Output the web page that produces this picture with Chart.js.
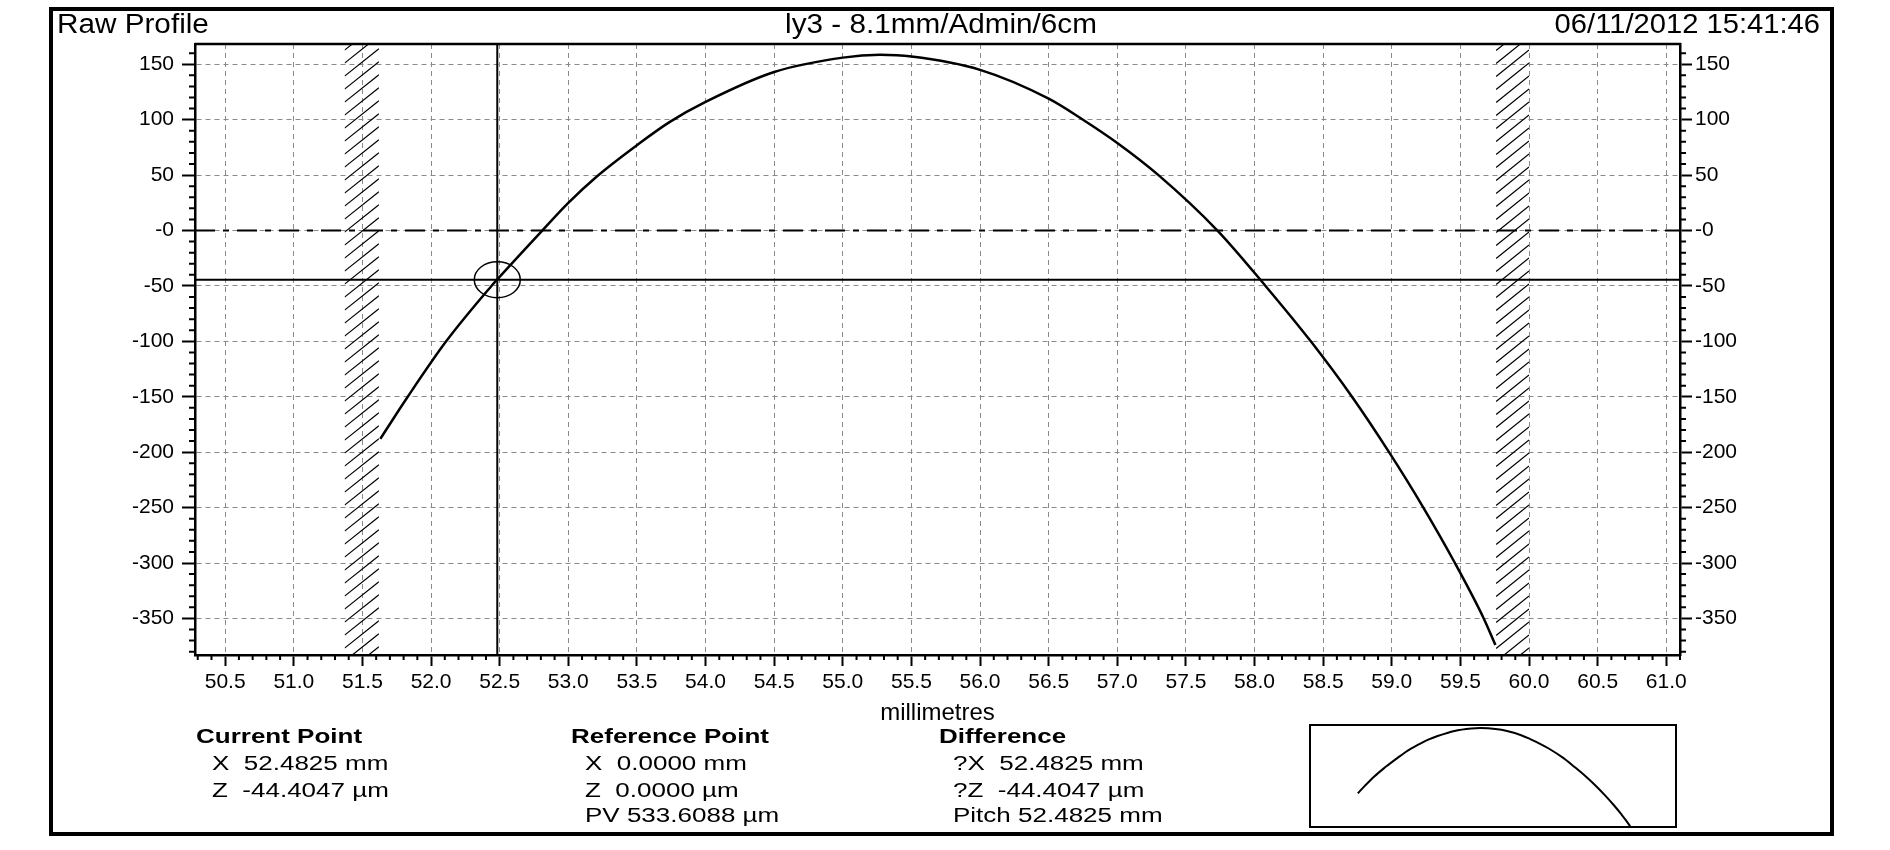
<!DOCTYPE html>
<html>
<head>
<meta charset="utf-8">
<title>Raw Profile</title>
<script src="https://cdn.jsdelivr.net/npm/chart.js@4.4.1/dist/chart.umd.min.js"></script>
<style>
  html, body { margin: 0; padding: 0; background: #fff; }
  #wrap { position: relative; width: 1890px; height: 850px; }
  #profile-chart { position: absolute; left: 0; top: 0; }
  #mini-chart { position: absolute; left: 1309px; top: 724px; }
</style>
</head>
<body>
<div id="wrap">
  <canvas id="profile-chart" width="1890" height="850"></canvas>
  <canvas id="mini-chart" width="368" height="104"></canvas>
</div>
<script>
// trace: position (mm) and height (µm)
var profileX = [51.63, 51.83, 52.11, 52.44, 52.48, 52.81, 53.0, 53.21, 53.5, 53.74, 54.0, 54.5,
                55.0, 55.27, 55.5, 56.0, 56.5, 56.75, 57.0, 57.3, 57.73, 58.08, 58.41, 58.71,
                58.98, 59.23, 59.46, 59.67, 59.755];
var profileZ = [-188, -150, -100, -50, -44.4, 0, 25, 49, 77, 98, 116, 143,
                156, 158.5, 157, 145, 119, 100, 79, 50, 0, -50, -100, -150,
                -200, -250, -300, -350, -374];

// axis ranges and tick values
var xRange = [50.28, 61.1];
var zRange = [-383, 168.3];
var xTicks = [50.5, 51.0, 51.5, 52.0, 52.5, 53.0, 53.5, 54.0, 54.5, 55.0, 55.5,
              56.0, 56.5, 57.0, 57.5, 58.0, 58.5, 59.0, 59.5, 60.0, 60.5, 61.0];
var zTicks = [150, 100, 50, 0, -50, -100, -150, -200, -250, -300, -350];

// cursor and excluded bands
var cursorX = 52.4825;
var cursorZ = -44.4047;
var bandsX = [[51.37, 51.62], [59.76, 60.0]];

// texts
var headerLeft = 'Raw Profile';
var headerMid = 'ly3 - 8.1mm/Admin/6cm';
var headerRight = '06/11/2012 15:41:46';
var axisTitle = 'millimetres';
var infoCurrent = ['Current Point', 'X  52.4825 mm', 'Z  -44.4047 µm'];
var infoReference = ['Reference Point', 'X  0.0000 mm', 'Z  0.0000 µm', 'PV 533.6088 µm'];
var infoDifference = ['Difference', '?X  52.4825 mm', '?Z  -44.4047 µm', 'Pitch 52.4825 mm'];

var FONT = "'Liberation Sans', Arial, sans-serif";
Chart.defaults.font.family = FONT;
Chart.defaults.color = '#000';

var points = profileX.map(function (x, i) { return {x: x, y: profileZ[i]}; });

// stretched text, the original UI font is wider than Arial
function txt(ctx, s, x, y, size, bold, align, sx) {
    ctx.save();
    ctx.font = (bold ? 'bold ' : '') + size + 'px ' + FONT;
    ctx.fillStyle = '#000';
    ctx.textBaseline = 'alphabetic';
    ctx.textAlign = align;
    ctx.translate(x, y);
    ctx.scale(sx, 1);
    ctx.fillText(s, 0, 0);
    ctx.restore();
}

function zLabel(v) { return v === 0 ? '-0' : String(v); }

var overlay = {
    id: 'overlay',
    beforeDatasetsDraw: function (chart) {
        var ctx = chart.ctx, a = chart.chartArea, xs = chart.scales.x, ys = chart.scales.y;
        ctx.save();
        ctx.beginPath();
        ctx.rect(a.left, a.top, a.right - a.left, a.bottom - a.top);
        ctx.clip();

        // hatched bands
        ctx.strokeStyle = '#000';
        ctx.lineWidth = 1.2;
        bandsX.forEach(function (b) {
            var p1 = xs.getPixelForValue(b[0]), p2 = xs.getPixelForValue(b[1]);
            var w = p2 - p1;
            ctx.save();
            ctx.beginPath();
            ctx.rect(p1, a.top, w, a.bottom - a.top);
            ctx.clip();
            ctx.beginPath();
            for (var yy = a.top - w; yy < a.bottom + w; yy += 13) {
                ctx.moveTo(p1, yy + w * 0.8);
                ctx.lineTo(p2, yy);
            }
            ctx.stroke();
            ctx.restore();
        });

        // zero line, dash-dot
        var p0 = ys.getPixelForValue(0);
        ctx.beginPath();
        ctx.setLineDash([20, 8, 6, 8]);
        ctx.lineWidth = 2;
        ctx.moveTo(a.left, p0);
        ctx.lineTo(a.right, p0);
        ctx.stroke();
        ctx.setLineDash([]);

        // cursor cross
        var cx = xs.getPixelForValue(cursorX), cy = ys.getPixelForValue(cursorZ);
        ctx.beginPath();
        ctx.lineWidth = 2;
        ctx.moveTo(cx, a.top);
        ctx.lineTo(cx, a.bottom);
        ctx.moveTo(a.left, cy);
        ctx.lineTo(a.right, cy);
        ctx.stroke();
        ctx.restore();
    },
    afterDatasetsDraw: function (chart) {
        var ctx = chart.ctx, xs = chart.scales.x, ys = chart.scales.y;
        ctx.save();
        ctx.beginPath();
        ctx.lineWidth = 1.5;
        ctx.strokeStyle = '#000';
        ctx.ellipse(xs.getPixelForValue(cursorX), ys.getPixelForValue(cursorZ), 23, 18, 0, 0, Math.PI * 2);
        ctx.stroke();
        ctx.restore();
    },
    afterDraw: function (chart) {
        var ctx = chart.ctx, a = chart.chartArea, xs = chart.scales.x, ys = chart.scales.y;
        ctx.save();
        ctx.strokeStyle = '#000';

        // minor ticks
        ctx.lineWidth = 2;
        ctx.beginPath();
        for (var v = Math.ceil(xRange[0] * 10); v <= Math.floor(xRange[1] * 10); v++) {
            if (v % 5 === 0) continue;
            var px = xs.getPixelForValue(v / 10);
            ctx.moveTo(px, a.bottom);
            ctx.lineTo(px, a.bottom + 5);
        }
        for (var k = Math.ceil(zRange[0] / 10); k <= Math.floor(zRange[1] / 10); k++) {
            if (k % 5 === 0) continue;
            var py = ys.getPixelForValue(k * 10);
            ctx.moveTo(a.left - 6, py);
            ctx.lineTo(a.left, py);
            ctx.moveTo(a.right, py);
            ctx.lineTo(a.right + 6, py);
        }
        ctx.stroke();

        // top edge of the plot
        ctx.lineWidth = 2.5;
        ctx.beginPath();
        ctx.moveTo(a.left, a.top);
        ctx.lineTo(a.right + 1, a.top);
        ctx.stroke();

        // outer frame
        ctx.lineWidth = 4;
        ctx.strokeRect(51, 9, 1781, 825);
        ctx.restore();

        // header
        txt(ctx, headerLeft, 57, 33, 27, false, 'left', 1.1);
        txt(ctx, headerMid, 941, 33, 27, false, 'center', 1.1);
        txt(ctx, headerRight, 1820, 33, 27, false, 'right', 1.08);

        // readout
        var rows = [743, 770, 797, 822];
        var cols = [[infoCurrent, 196, 212], [infoReference, 571, 585], [infoDifference, 939, 953]];
        cols.forEach(function (c) {
            c[0].forEach(function (s, i) {
                txt(ctx, s, i === 0 ? c[1] : c[2], rows[i], 20, i === 0, 'left', 1.3);
            });
        });
    }
};

var gridStyle = {
    color: '#8a8a8a',
    lineWidth: 1,
    tickColor: '#000',
    tickWidth: 2,
    tickBorderDash: []
};

function setTicks(list) {
    return function (scale) {
        scale.ticks = list.map(function (v) { return {value: v}; });
    };
}

new Chart(document.getElementById('profile-chart').getContext('2d'), {
    type: 'scatter',
    data: {
        datasets: [{
            label: 'Raw Profile',
            data: points,
            showLine: true,
            borderColor: '#000',
            borderWidth: 2.5,
            pointRadius: 0,
            cubicInterpolationMode: 'monotone'
        }]
    },
    options: {
        responsive: false,
        animation: false,
        devicePixelRatio: 1,
        layout: {padding: {top: 44, left: 0, right: 0, bottom: 0}},
        plugins: {legend: {display: false}, tooltip: {enabled: false}},
        scales: {
            x: {
                type: 'linear',
                min: xRange[0],
                max: xRange[1],
                afterBuildTicks: setTicks(xTicks),
                afterFit: function (s) { s.height = 195; },
                grid: Object.assign({tickLength: 11}, gridStyle),
                border: {display: true, color: '#000', width: 2.5, dash: [5, 4]},
                ticks: {
                    autoSkip: false,
                    maxRotation: 0,
                    padding: 4,
                    font: {size: 21},
                    callback: function (v) { return v.toFixed(1); }
                },
                title: {display: true, text: axisTitle, font: {size: 24}, padding: {top: 0, bottom: 122}}
            },
            y: {
                position: 'left',
                min: zRange[0],
                max: zRange[1],
                afterBuildTicks: setTicks(zTicks),
                afterFit: function (s) { s.width = 195; },
                grid: Object.assign({tickLength: 13}, gridStyle),
                border: {display: true, color: '#000', width: 2.5, dash: [5, 4]},
                ticks: {autoSkip: false, padding: 8, font: {size: 21}, callback: zLabel}
            },
            y2: {
                position: 'right',
                min: zRange[0],
                max: zRange[1],
                afterBuildTicks: setTicks(zTicks),
                afterFit: function (s) { s.width = 210; },
                grid: Object.assign({tickLength: 12, drawOnChartArea: false}, gridStyle),
                border: {display: true, color: '#000', width: 2.5},
                ticks: {autoSkip: false, padding: 3, font: {size: 21}, callback: zLabel}
            }
        }
    },
    plugins: [overlay]
});

// small overview of the whole trace
var miniFrame = {
    id: 'miniFrame',
    afterDraw: function (chart) {
        var ctx = chart.ctx;
        ctx.save();
        ctx.strokeStyle = '#000';
        ctx.lineWidth = 2;
        ctx.strokeRect(1, 1, chart.width - 2, chart.height - 2);
        ctx.restore();
    }
};

new Chart(document.getElementById('mini-chart').getContext('2d'), {
    type: 'scatter',
    data: {
        datasets: [{
            data: points,
            showLine: true,
            borderColor: '#000',
            borderWidth: 2,
            pointRadius: 0,
            cubicInterpolationMode: 'monotone'
        }]
    },
    options: {
        responsive: false,
        animation: false,
        devicePixelRatio: 1,
        layout: {padding: 0},
        plugins: {legend: {display: false}, tooltip: {enabled: false}},
        scales: {
            x: {type: 'linear', display: false, min: 50.18, max: 61.11},
            y: {display: false, min: -372, max: 180}
        }
    },
    plugins: [miniFrame]
});
</script>
</body>
</html>
